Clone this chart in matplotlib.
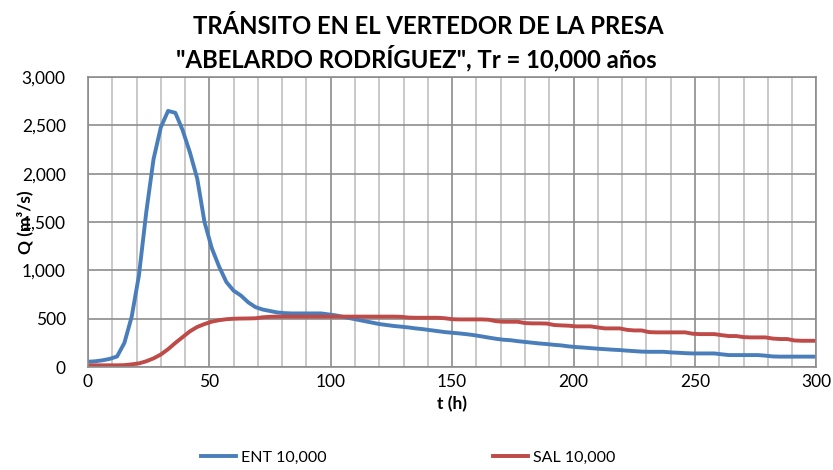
import numpy as np
import matplotlib
matplotlib.use('Agg')
import matplotlib.pyplot as plt
from matplotlib.ticker import MultipleLocator, FuncFormatter

plt.rcParams['font.family'] = ['Lato', 'DejaVu Sans']

# tiempo (h), paso de 3 h
t = np.arange(0, 301, 3)

# hidrograma de entrada
ent = [55, 60, 70, 85, 110, 250, 520, 950, 1600, 2150,
       2480, 2650, 2630, 2450, 2220, 1950, 1500, 1230, 1040, 880,
       790, 740, 670, 620, 595, 580, 565, 558, 555, 555,
       555, 555, 555, 545, 535, 520, 505, 490, 475, 460,
       445, 435, 425, 418, 410, 400, 392, 382, 372, 362,
       355, 348, 340, 330, 318, 305, 293, 283, 278, 268,
       260, 252, 244, 238, 230, 224, 214, 207, 202, 196,
       190, 185, 180, 176, 170, 165, 160, 158, 158, 158,
       152, 148, 144, 141, 141, 141, 141, 132, 124, 124,
       124, 124, 124, 118, 110, 108, 108, 108, 108, 108,
       108]

# hidrograma de salida
sal = [18, 18, 18, 18, 18, 20, 28, 38, 60, 90,
       130, 185, 250, 310, 370, 415, 445, 470, 485, 495,
       500, 502, 503, 505, 515, 520, 522, 522, 522, 522,
       522, 522, 522, 522, 522, 522, 522, 522, 522, 522,
       522, 522, 522, 520, 512, 510, 510, 510, 510, 505,
       495, 493, 493, 493, 493, 490, 475, 469, 469, 469,
       455, 452, 452, 450, 435, 431, 428, 421, 421, 421,
       410, 400, 400, 400, 385, 379, 379, 362, 359, 359,
       359, 359, 359, 345, 341, 341, 341, 330, 321, 321,
       310, 307, 307, 307, 295, 290, 290, 275, 272, 272,
       272]

fig = plt.figure(figsize=(8.33, 4.70), dpi=100)
ax = fig.add_axes([0.1056, 0.219, 0.8744, 0.617])

ax.plot(t, ent, color='#4a7ebb', lw=2.8, label='ENT 10,000', solid_joinstyle='round')
ax.plot(t, sal, color='#be4b48', lw=2.8, label='SAL 10,000', solid_joinstyle='round')

ax.set_xlim(0, 300)
ax.set_ylim(0, 3000)
ax.xaxis.set_major_locator(MultipleLocator(50))
ax.xaxis.set_minor_locator(MultipleLocator(10))
ax.yaxis.set_major_locator(MultipleLocator(500))
ax.yaxis.set_major_formatter(FuncFormatter(lambda v, p: f'{int(v):,}'))

ax.grid(which='major', color='#8c8c8c', lw=1.2)
ax.grid(which='minor', axis='x', color='#c0c0c0', lw=1.2)
ax.set_axisbelow(True)
for s in ax.spines.values():
    s.set_color('#8c8c8c')
    s.set_linewidth(1.2)

ax.tick_params(which='both', length=0, labelsize=12.5, colors='black')
ax.tick_params(axis='x', pad=5)
ax.tick_params(axis='y', pad=16)

ax.set_xlabel('t (h)', fontsize=12.5, fontweight='bold', labelpad=4)
fig.text(0.030, 0.527, 'Q (m³/s)', rotation=90, fontsize=12.5, fontweight='bold',
         ha='center', va='center')

fig.text(0.514, 0.968, 'TRÁNSITO EN EL VERTEDOR DE LA PRESA', fontsize=17.2,
         fontweight='bold', ha='center', va='top')
fig.text(0.500, 0.905, '"ABELARDO RODRÍGUEZ", Tr = 10,000 años', fontsize=17.2,
         fontweight='bold', ha='center', va='top')

fig.legend(loc='center', bbox_to_anchor=(0.49, 0.026), ncol=2, frameon=False,
           fontsize=11.5, columnspacing=10.4, handlelength=2.2, handletextpad=0.3)

fig.savefig('out.png', dpi=100)
